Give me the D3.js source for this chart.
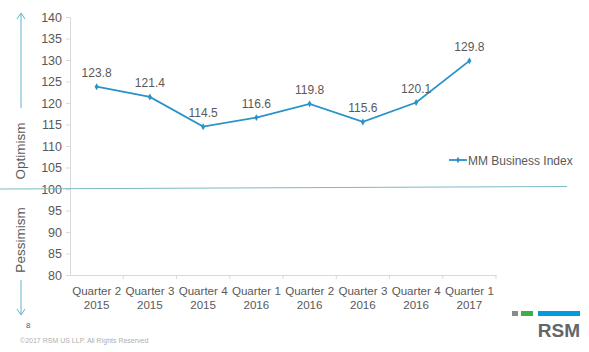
<!DOCTYPE html>
<html><head><meta charset="utf-8">
<script src="https://cdn.jsdelivr.net/npm/d3@7/dist/d3.min.js"></script>
<style>body{margin:0;background:#fff;}text{font-family:Arial,"Liberation Sans",sans-serif;}</style>
</head><body><svg id="c" width="589" height="352"></svg>
<script>
const categories = [["Quarter 2","2015"],["Quarter 3","2015"],["Quarter 4","2015"],["Quarter 1","2016"],["Quarter 2","2016"],["Quarter 3","2016"],["Quarter 4","2016"],["Quarter 1","2017"]];
const values = [123.8,121.4,114.5,116.6,119.8,115.6,120.1,129.8];
const yTicks = [80,85,90,95,100,105,110,115,120,125,130,135,140];
const seriesName = "MM Business Index";

(function(){
const svg = d3.select("#c");
const mL = 70, mR = 496, mT = 17, mB = 275;
const x = d3.scaleBand().domain(d3.range(categories.length)).range([mL, mR]);
const y = d3.scaleLinear().domain([80,140]).range([mB, mT]);
const grey = "#595959";
const lineColor = "#2a93c8";

// y axis
const ya = svg.append("g").attr("transform",`translate(${mL},0)`)
  .call(d3.axisLeft(y).tickValues(yTicks).tickSize(4).tickPadding(4));
ya.select(".domain").attr("stroke","#d9d9d9");
ya.selectAll(".tick line").attr("stroke","#d9d9d9");
ya.selectAll(".tick text").attr("fill",grey).style("font-size","12.5px");

// x axis
const xa = svg.append("g").attr("transform",`translate(0,${mB})`)
  .call(d3.axisBottom(x).tickSize(0).tickFormat(""));
xa.select(".domain").attr("stroke","#d9d9d9");
x.domain().slice(1).forEach(i=>{
  xa.append("line").attr("x1",x(i)).attr("x2",x(i)).attr("y1",0).attr("y2",4).attr("stroke","#d9d9d9");
});
xa.append("line").attr("x1",mR).attr("x2",mR).attr("y1",0).attr("y2",4).attr("stroke","#d9d9d9");
categories.forEach((c,i)=>{
  const t = svg.append("text").attr("x",x(i)+x.bandwidth()/2).attr("text-anchor","middle")
    .attr("fill",grey).style("font-size","11.6px");
  t.append("tspan").attr("x",x(i)+x.bandwidth()/2).attr("y",mB+20).text(c[0]);
  t.append("tspan").attr("x",x(i)+x.bandwidth()/2).attr("y",mB+34).text(c[1]);
});

// 100 reference line (slide decoration)
svg.append("line").attr("x1",0).attr("x2",567).attr("y1",y(100)).attr("y2",y(100)-2.5)
  .attr("stroke","#7db9c6").attr("stroke-width",1);

// series line
const cx = i => x(i)+x.bandwidth()/2;
svg.append("path").datum(values)
  .attr("d", d3.line().x((d,i)=>cx(i)).y(d=>y(d)))
  .attr("fill","none").attr("stroke",lineColor).attr("stroke-width",1.8);
svg.selectAll(".m").data(values).enter().append("path")
  .attr("transform",(d,i)=>`translate(${cx(i)},${y(d)})`)
  .attr("d", d3.symbol().type(d3.symbolDiamond).size(14)).attr("fill",lineColor);
svg.selectAll(".lbl").data(values).enter().append("text")
  .attr("x",(d,i)=>cx(i)).attr("y",d=>y(d)-10).attr("text-anchor","middle")
  .attr("fill",grey).style("font-size","12px").text(d=>d.toFixed(1));

// legend
svg.append("line").attr("x1",449).attr("x2",467).attr("y1",160).attr("y2",160).attr("stroke",lineColor).attr("stroke-width",1.8);
svg.append("path").attr("transform","translate(458,160)").attr("d",d3.symbol().type(d3.symbolDiamond).size(12)).attr("fill",lineColor);
svg.append("text").attr("x",468).attr("y",164.5).attr("fill",grey).style("font-size","12px").text(seriesName);

// optimism / pessimism arrows
const ac = "#5fb3c8";
svg.append("line").attr("x1",21).attr("x2",21).attr("y1",108).attr("y2",14).attr("stroke",ac);
svg.append("path").attr("d","M17,19 L21,13 L25,19").attr("fill","none").attr("stroke",ac);
svg.append("line").attr("x1",21).attr("x2",21).attr("y1",280).attr("y2",314).attr("stroke",ac);
svg.append("path").attr("d","M17,309 L21,315 L25,309").attr("fill","none").attr("stroke",ac);
svg.append("text").attr("transform","translate(25,151) rotate(-90)").attr("text-anchor","middle")
  .attr("fill",grey).style("font-size","13.5px").text("Optimism");
svg.append("text").attr("transform","translate(25,240) rotate(-90)").attr("text-anchor","middle")
  .attr("fill",grey).style("font-size","13.5px").text("Pessimism");

// footer
svg.append("text").attr("x",26).attr("y",328).attr("fill",grey).style("font-size","8px").text("8");
svg.append("text").attr("x",20).attr("y",343).attr("fill","#b0b0b0").style("font-size","7px").text("©2017 RSM US LLP. All Rights Reserved");
// logo
svg.append("rect").attr("x",512).attr("y",311).attr("width",6).attr("height",5).attr("fill","#888b8d");
svg.append("rect").attr("x",521).attr("y",311).attr("width",12).attr("height",5).attr("fill","#3fae49");
svg.append("rect").attr("x",538).attr("y",311).attr("width",42).attr("height",5).attr("fill","#009cde");
svg.append("text").attr("x",580).attr("y",337).attr("text-anchor","end").attr("fill","#63666a")
  .style("font-size","19px").style("font-weight","bold").text("RSM");
})();
</script></body></html>
